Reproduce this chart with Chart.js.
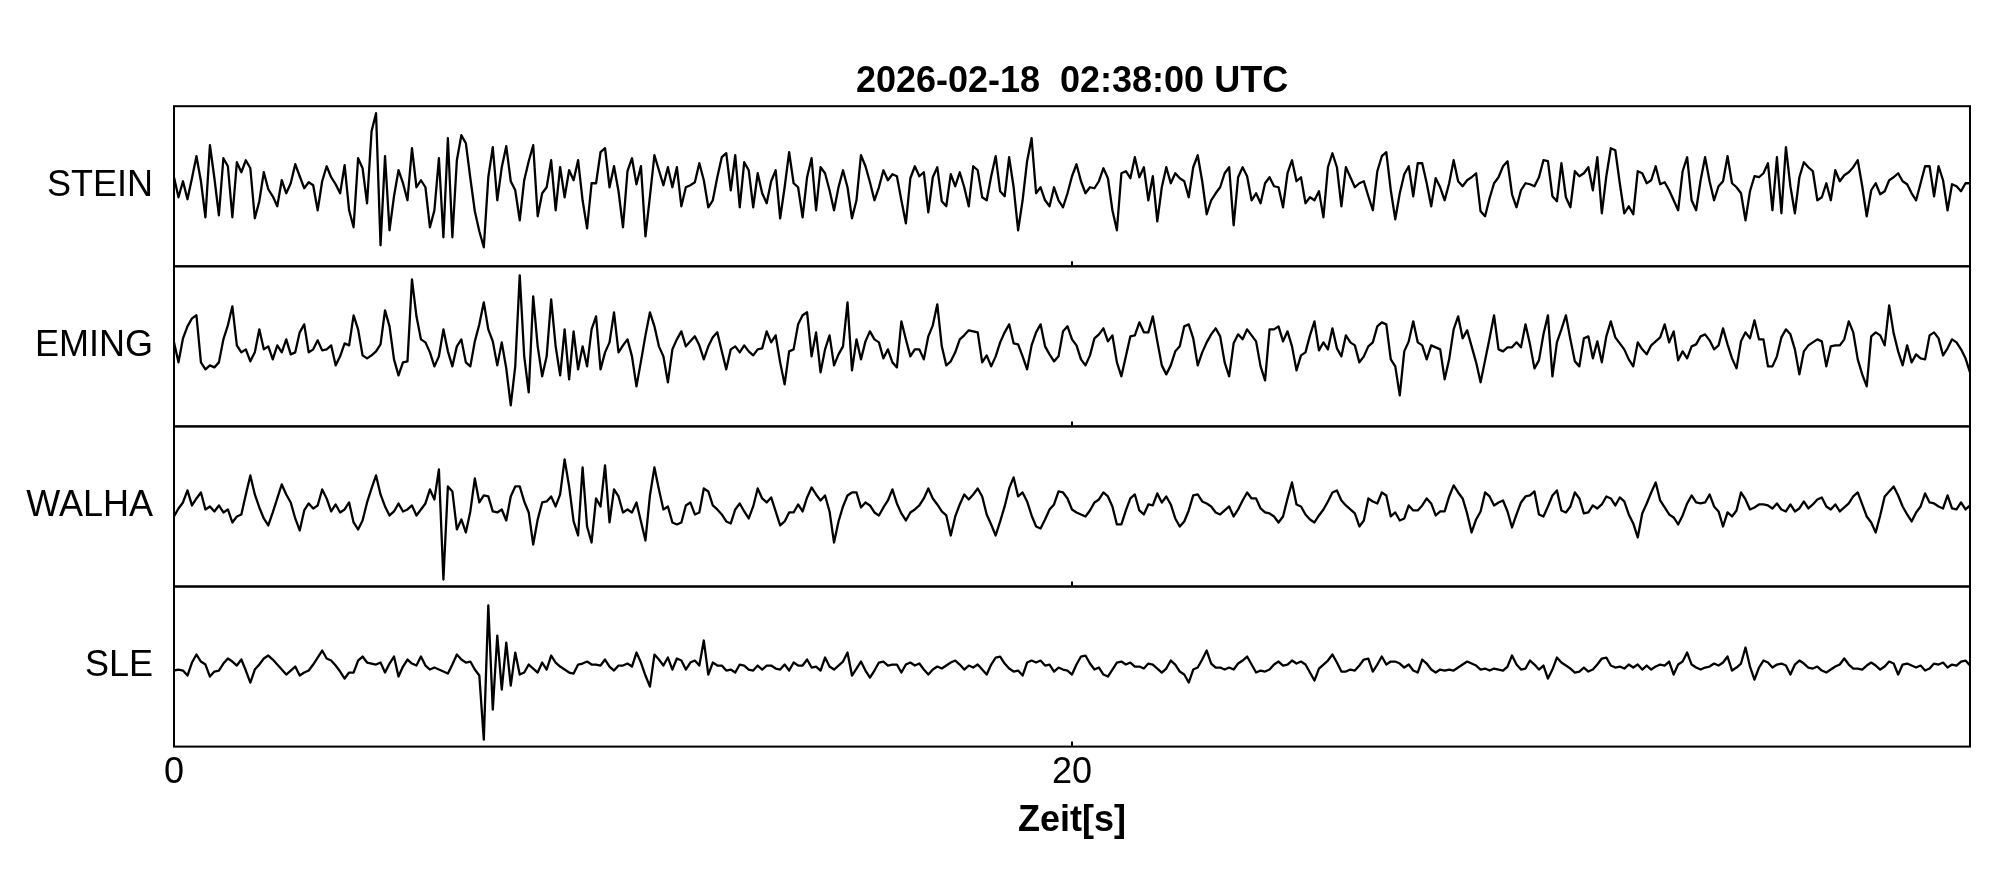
<!DOCTYPE html>
<html>
<head>
<meta charset="utf-8">
<script src="https://cdn.jsdelivr.net/npm/chart.js@4.4.1/dist/chart.umd.min.js"></script>
<style>
  html, body { margin: 0; padding: 0; background: #fff; }
  #wrap { width: 2005px; height: 880px; }
</style>
</head>
<body>
<div id="wrap"><canvas id="seismo" width="2005" height="880"></canvas></div>
<script>
const plotTitle = "2026-02-18  02:38:00 UTC"
const xTitle = "Zeit[s]"
const stations = ["STEIN", "EMING", "WALHA", "SLE"]
const xTicks = [0, 20]
const sampleRate = 10   // samples per second, trace runs 0 .. 40 s

// amplitudes, one row per second
const stein = [
  9,-11,5,-13,8,30,5,-31,41,8,
  -29,28,20,-31,24,14,26,18,-32,-15,
  14,-3,-10,-20,6,-7,3,22,10,-2,
  4,1,-24,5,20,9,2,-7,21,-24,
  -41,28,18,-17,55,73,-59,30,-44,-10,
  16,3,-14,38,-1,6,-1,-41,-24,28,
  -51,48,-51,26,51,43,8,-25,-45,-61,
  9,39,-14,19,40,5,-4,-34,6,25,
  41,-30,-7,-1,26,-24,19,-11,16,6,
  26,-14,-42,3,3,34,38,-1,20,-5,
  -41,15,28,2,20,-50,-10,31,16,1,
  19,-1,19,-20,-1,1,4,23,6,-21,
  -14,9,29,33,-4,31,-21,24,16,-21,
  13,-7,-17,5,16,-32,-1,34,3,-1,
  -31,9,28,-24,19,13,-4,-24,-1,16,
  -1,-32,-14,31,20,4,-14,-1,16,6,
  12,10,-14,-37,8,20,10,14,-26,9,
  19,-15,-20,12,0,14,-1,-20,20,16,
  -11,-14,10,30,-5,-10,29,-1,-44,-14,
  25,48,-7,-1,-14,-20,-1,-14,-21,-7,
  10,22,5,-7,-1,-2,5,18,8,-24,
  -44,13,15,8,29,9,19,-14,10,-35,
  -1,19,3,13,8,5,-11,19,31,5,
  -28,-14,-7,-1,13,19,-39,9,19,10,
  -14,-7,-17,3,9,0,-1,-21,13,26,
  5,9,-17,-11,-14,-5,-31,19,33,19,
  -20,19,9,-1,3,5,-10,-24,15,30,
  34,-4,-33,-7,12,20,-10,23,23,3,
  -20,8,-1,-14,3,26,5,0,6,9,
  13,-25,-30,-12,3,9,20,25,-8,-21,
  -4,3,2,0,9,26,25,-10,-15,23,
  -11,-21,15,10,13,19,-4,29,-27,10,
  38,36,3,-27,-20,-28,15,13,3,6,
  20,2,4,-4,-14,-24,15,29,-14,-24,
  6,29,5,-14,0,5,30,3,-1,-7,
  -34,-5,10,9,13,23,-24,29,-27,39,
  0,-27,9,24,19,15,-14,-11,3,-14,
  16,5,11,14,19,26,0,-30,-4,3,
  -8,-5,6,9,13,5,2,-7,-14,3,
  20,20,-10,20,6,-24,2,0,-5,3,
  3
]

const eming = [
  4,-16,8,20,28,31,-16,-23,-19,-21,
  -16,7,21,40,1,-6,-3,-15,-6,17,
  -3,0,-13,1,-6,7,-8,-6,14,22,
  -6,-3,6,-4,-3,1,-19,-10,3,1,
  31,17,-9,-12,-9,-5,2,36,20,-13,
  -29,-16,-15,67,30,7,4,-6,-20,-10,
  17,-5,-20,0,7,-16,-20,5,22,44,
  17,5,-19,4,-22,-59,-20,71,-10,-46,
  50,0,-30,-10,47,0,-29,17,-33,15,
  -23,0,-20,17,30,-23,-6,4,34,-6,
  1,7,-10,-40,-15,11,34,20,0,-10,
  -36,-3,7,15,0,5,10,1,-13,0,
  9,14,-5,-23,-3,0,-6,1,-5,-9,
  -3,-2,15,4,11,-16,-38,-5,-3,22,
  31,34,-10,14,-26,-3,11,-19,-8,0,
  44,-24,7,-13,5,15,7,4,-12,-3,
  -16,-21,25,7,-10,-3,-3,-13,10,21,
  42,0,-19,-15,-6,7,11,16,15,14,
  -16,-9,-20,-10,4,14,22,3,2,-10,
  -23,1,14,22,0,-8,-15,-10,15,20,
  7,1,-13,-19,-9,8,12,18,5,11,
  -16,-30,-10,10,11,24,14,14,30,5,
  -19,-28,-19,-5,0,20,22,8,-19,-6,
  4,12,18,10,-16,-30,3,12,7,17,
  11,5,-20,-34,17,17,20,5,15,0,
  -24,-9,-6,11,25,-4,4,-3,18,-2,
  -10,11,4,1,-16,-10,0,4,20,24,
  22,-13,-20,-49,-5,5,25,4,1,-13,
  1,-1,-3,-33,-13,17,30,8,16,0,
  -16,-36,-14,8,31,-3,-5,-1,-1,4,
  -1,22,2,-22,-14,12,31,-30,4,17,
  31,7,-15,-20,8,10,-12,5,-16,10,
  25,9,3,-3,-13,-20,4,-3,-8,1,
  5,9,22,4,15,-14,-5,-12,0,2,
  10,12,6,-3,1,18,2,-12,-22,5,
  14,8,26,7,7,-20,-20,-10,9,17,
  12,-3,-28,-5,1,4,7,5,-20,0,
  1,1,7,25,14,-13,-28,-40,10,14,
  11,1,41,13,-5,-19,1,-16,-8,-12,
  -13,11,14,8,-9,-2,7,4,-3,-12,
  -26
]

const walha = [
  -10,-2,4,16,1,8,14,-3,0,-5,
  1,-6,-3,-16,-10,-8,12,31,12,-1,
  -12,-19,-6,8,22,12,4,-12,-24,-4,
  3,-2,1,17,8,-5,2,-6,-3,4,
  -16,-23,-14,4,18,31,12,0,-9,-5,
  3,-5,-3,1,-9,-3,3,17,7,37,
  -73,20,15,-23,-13,-26,-5,28,4,11,
  10,-5,-6,-3,-14,10,20,20,5,-6,
  -38,-13,4,5,10,0,12,47,20,-15,
  -29,39,-20,-36,8,0,41,-16,17,10,
  -6,-3,-6,4,-15,-34,11,39,17,-3,
  0,-16,-18,-16,1,4,-8,-6,18,15,
  1,-3,-8,-15,-17,-3,3,-5,-12,0,
  18,8,4,9,-5,-19,-15,-6,-6,2,
  -5,9,19,12,6,11,-5,-36,-15,0,
  11,14,14,-1,4,1,-6,-9,-1,6,
  17,3,-7,-14,-6,-3,1,8,18,8,
  2,-5,-9,-29,-10,2,12,7,12,18,
  10,-8,-18,-29,-15,0,18,29,10,14,
  5,-9,-20,-22,-13,-3,2,15,14,8,
  -3,-6,-8,-10,-4,4,7,14,10,0,
  -18,-18,-4,8,12,-4,-8,2,1,13,
  4,10,2,-12,-20,-15,-4,11,12,5,
  3,0,-6,-8,-4,0,-10,-3,6,14,
  8,8,-2,-6,-7,-10,-16,-10,8,24,
  2,0,-8,-13,-16,-9,-3,5,14,16,
  6,1,-3,-7,-20,-14,8,5,3,14,
  11,-10,-6,-14,-12,1,-4,-4,1,8,
  3,-9,-5,-5,10,21,14,8,-7,-26,
  -13,-5,14,10,1,4,6,-5,-21,-8,
  4,10,11,15,-8,-10,0,11,16,-4,
  -6,0,14,8,-7,-6,1,-2,2,10,
  8,1,9,5,-8,-17,-31,-7,3,14,
  24,6,-1,-8,-11,-18,-9,3,11,4,
  3,4,12,0,-5,-20,-6,-10,-4,14,
  7,-3,-1,2,2,1,-2,3,-3,-5,
  2,-5,-2,5,-2,2,7,9,0,-3,
  2,-5,-1,3,10,14,2,-10,-16,-26,
  -9,10,15,20,11,0,-8,-15,-6,0,
  13,4,3,0,-2,11,-2,-3,4,-3,
  1
]

const sle = [
  -4,-3,-4,-9,4,12,5,2,-10,-5,
  -4,3,8,5,1,7,-4,-16,-3,2,
  8,11,7,2,-3,-8,-4,0,-9,-6,
  -4,2,9,16,8,6,1,-5,-12,-6,
  -6,6,10,4,3,2,4,-6,3,10,
  -10,0,7,3,1,10,1,-3,-1,-3,
  -5,-7,2,12,7,4,5,-3,-9,-73,
  61,-43,31,-23,24,-19,14,-8,-6,2,
  -2,-6,4,-3,11,4,0,-3,-6,-7,
  2,3,5,2,2,1,7,0,-4,1,
  1,3,0,14,4,-9,-20,12,7,1,
  9,-3,8,6,-3,4,6,1,26,-8,
  4,1,1,-4,-3,-6,2,1,-3,-4,
  1,-3,1,1,-2,-3,2,-4,4,1,
  1,7,-1,0,-4,9,0,-3,1,5,
  14,-9,-2,5,-4,-11,-4,4,5,1,
  2,2,-6,2,4,1,3,-3,-8,-3,
  0,-2,1,4,6,2,-3,1,-1,2,
  -3,-8,2,9,10,3,-2,-5,-4,-9,
  4,6,4,6,1,2,-5,-1,-3,-4,
  -8,2,10,11,3,-3,-1,-8,-10,-3,
  4,5,2,4,0,0,-2,3,2,-2,
  -6,-2,6,2,-5,-8,-16,-3,-1,7,
  16,3,-1,-1,-3,-1,-3,3,6,10,
  2,-6,-4,-5,-3,2,5,1,2,6,
  3,5,2,-6,-14,-2,2,6,12,4,
  -5,-5,-3,-4,1,7,8,-5,2,10,
  2,5,5,3,-1,2,-4,-6,7,3,
  -3,-6,-3,-4,-3,-4,-1,2,5,3,
  1,-3,-2,-4,-2,-3,-4,0,11,2,
  -3,-2,6,2,-3,1,-12,-3,9,4,
  1,-2,-6,-5,-1,-5,-3,2,8,9,
  1,-1,0,-2,2,-1,2,-3,1,-3,
  0,2,1,5,-8,2,5,14,2,-1,
  -3,-1,0,3,1,4,10,-4,-1,3,
  19,0,-13,-1,6,4,-1,2,3,1,
  -8,2,6,3,-1,-2,0,-4,-6,-3,
  0,2,8,2,-2,-2,-3,1,4,1,
  -3,0,5,3,-8,2,3,1,-1,1,
  -4,-2,3,2,4,-1,2,1,5,6,
  1
]

const traces = [stein, eming, walha, sle]
const times = stein.map((v, i) => i / sampleRate)
const font = "'Liberation Sans', Arial, Helvetica, sans-serif"

// box around every trace + small inward ticks on the bottom edge
const panelFrames = {
  id: "panelFrames",
  afterDatasetsDraw(chart) {
    const { ctx, chartArea, scales } = chart
    ctx.save()
    ctx.strokeStyle = "#000"
    ctx.lineWidth = 2
    stations.forEach((name, i) => {
      const sc = scales["y" + i]
      ctx.strokeRect(chartArea.left, sc.top, chartArea.right - chartArea.left, sc.bottom - sc.top)
      xTicks.forEach(v => {
        const px = scales.x.getPixelForValue(v)
        ctx.beginPath()
        ctx.moveTo(px, sc.bottom)
        ctx.lineTo(px, sc.bottom - 5)
        ctx.stroke()
      })
    })
    ctx.restore()
  }
}

let yScales = {}
stations.forEach((name, i) => {
  yScales["y" + i] = {
    type: "linear",
    position: "left",
    stack: "traces",
    stackWeight: 1,
    weight: stations.length - i,
    min: -80,
    max: 80,
    grid: { display: false, drawTicks: false },
    border: { display: false },
    afterBuildTicks: scale => { scale.ticks = [{ value: 0 }] },
    afterFit: scale => { scale.width = 149 },
    ticks: {
      callback: () => name,
      color: "#000",
      font: { family: font, size: 36 },
      padding: 21
    }
  }
})

const ctx = document.getElementById("seismo")

let grafico = new Chart(ctx, {
  type: "line",
  data: {
    labels: times,
    datasets: traces.map((trace, i) => ({
      label: stations[i],
      data: trace,
      yAxisID: "y" + i,
      xAxisID: "x",
      borderColor: "#000",
      borderWidth: 2.3,
      borderJoinStyle: "round",
      pointRadius: 0,
      fill: false,
      tension: 0
    }))
  },
  options: {
    responsive: false,
    animation: false,
    devicePixelRatio: 1,
    events: [],
    layout: { padding: { left: 25, right: 35, top: 57, bottom: 37 } },
    plugins: {
      legend: { display: false },
      tooltip: { enabled: false },
      title: {
        display: true,
        text: plotTitle,
        color: "#000",
        fullSize: false,
        font: { family: font, size: 36, weight: "bold" },
        padding: { top: 3, bottom: 3 }
      }
    },
    scales: Object.assign({
      x: {
        type: "linear",
        position: "bottom",
        min: 0,
        max: 40,
        grid: { display: false, drawTicks: false },
        border: { display: false },
        afterBuildTicks: scale => { scale.ticks = xTicks.map(v => ({ value: v })) },
        ticks: { color: "#000", font: { family: font, size: 36 }, padding: 5, maxRotation: 0 },
        title: {
          display: true,
          text: xTitle,
          color: "#000",
          font: { family: font, size: 36, weight: "bold" },
          padding: { top: 0, bottom: 0 }
        }
      }
    }, yScales)
  },
  plugins: [panelFrames]
})
</script>
</body>
</html>
